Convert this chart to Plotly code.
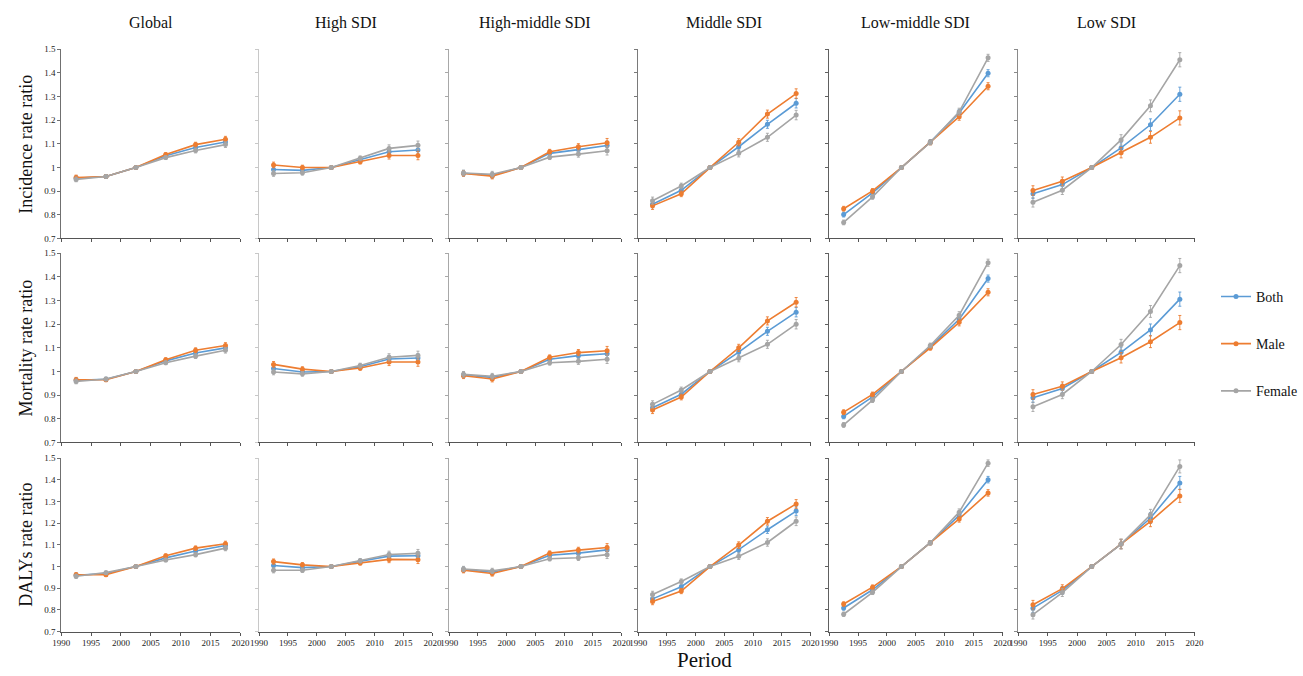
import plotly.graph_objects as go

W, H = 1303, 676

periods = [1992.5, 1997.5, 2002.5, 2007.5, 2012.5, 2017.5]
columns = ["Global", "High SDI", "High-middle SDI", "Middle SDI", "Low-middle SDI", "Low SDI"]
rows = ["Incidence rate ratio", "Mortality rate ratio", "DALYs rate ratio"]
sexes = ["Both", "Male", "Female"]
colors = {"Both": "#5B9BD5", "Male": "#ED7D31", "Female": "#A5A5A5"}

y_tickvals = [0.7, 0.8, 0.9, 1.0, 1.1, 1.2, 1.3, 1.4, 1.5]
y_ticktext = ["0.7", "0.8", "0.9", "1", "1.1", "1.2", "1.3", "1.4", "1.5"]
x_tickvals = [1990, 1995, 2000, 2005, 2010, 2015, 2020]

# Incidence
inc_global = {"Both": [0.955, 0.962, 1, 1.050, 1.085, 1.108],
              "Male": [0.958, 0.962, 1, 1.055, 1.097, 1.120],
              "Female": [0.950, 0.962, 1, 1.042, 1.072, 1.097]}
inc_high = {"Both": [0.992, 0.988, 1, 1.032, 1.067, 1.074],
            "Male": [1.011, 1.000, 1, 1.025, 1.051, 1.051],
            "Female": [0.975, 0.978, 1, 1.039, 1.081, 1.094]}
inc_highmid = {"Both": [0.976, 0.967, 1, 1.060, 1.076, 1.093],
               "Male": [0.975, 0.964, 1, 1.067, 1.088, 1.105],
               "Female": [0.977, 0.972, 1, 1.044, 1.057, 1.071]}
inc_mid = {"Both": [0.845, 0.904, 1, 1.088, 1.183, 1.272],
           "Male": [0.838, 0.889, 1, 1.107, 1.226, 1.313],
           "Female": [0.860, 0.922, 1, 1.060, 1.128, 1.222]}
inc_lowmid = {"Both": [0.801, 0.893, 1, 1.108, 1.231, 1.399],
              "Male": [0.826, 0.901, 1, 1.106, 1.215, 1.344],
              "Female": [0.768, 0.876, 1, 1.106, 1.236, 1.464]}
inc_low = {"Both": [0.889, 0.928, 1, 1.083, 1.181, 1.310],
           "Male": [0.903, 0.942, 1, 1.063, 1.128, 1.210],
           "Female": [0.853, 0.904, 1, 1.117, 1.261, 1.456]}

# Mortality
mor_global = {"Both": [0.963, 0.967, 1, 1.045, 1.078, 1.100],
              "Male": [0.965, 0.965, 1, 1.050, 1.090, 1.110],
              "Female": [0.958, 0.968, 1, 1.037, 1.065, 1.090]}
mor_high = {"Both": [1.013, 0.998, 1, 1.020, 1.053, 1.057],
            "Male": [1.030, 1.010, 1, 1.015, 1.040, 1.040],
            "Female": [0.998, 0.990, 1, 1.025, 1.060, 1.068]}
mor_highmid = {"Both": [0.985, 0.975, 1, 1.052, 1.067, 1.075],
               "Male": [0.982, 0.968, 1, 1.060, 1.080, 1.088],
               "Female": [0.988, 0.980, 1, 1.037, 1.043, 1.052]}
mor_mid = {"Both": [0.847, 0.904, 1, 1.082, 1.170, 1.251],
           "Male": [0.837, 0.892, 1, 1.100, 1.214, 1.293],
           "Female": [0.861, 0.922, 1, 1.056, 1.115, 1.200]}
mor_lowmid = {"Both": [0.810, 0.893, 1, 1.104, 1.221, 1.393],
              "Male": [0.828, 0.903, 1, 1.100, 1.208, 1.335],
              "Female": [0.774, 0.879, 1, 1.110, 1.238, 1.460]}
mor_low = {"Both": [0.889, 0.928, 1, 1.081, 1.176, 1.306],
           "Male": [0.903, 0.938, 1, 1.058, 1.126, 1.207],
           "Female": [0.851, 0.903, 1, 1.114, 1.254, 1.448]}

# DALYs
daly_global = {"Both": [0.960, 0.968, 1, 1.040, 1.072, 1.097],
               "Male": [0.962, 0.962, 1, 1.050, 1.085, 1.105],
               "Female": [0.955, 0.972, 1, 1.030, 1.055, 1.085]}
daly_high = {"Both": [1.005, 0.995, 1, 1.024, 1.048, 1.050],
             "Male": [1.023, 1.008, 1, 1.017, 1.033, 1.032],
             "Female": [0.983, 0.983, 1, 1.027, 1.056, 1.061]}
daly_highmid = {"Both": [0.986, 0.974, 1, 1.052, 1.062, 1.077],
                "Male": [0.983, 0.968, 1, 1.062, 1.076, 1.088],
                "Female": [0.989, 0.980, 1, 1.036, 1.041, 1.055]}
daly_mid = {"Both": [0.851, 0.907, 1, 1.078, 1.170, 1.256],
            "Male": [0.839, 0.887, 1, 1.099, 1.209, 1.289],
            "Female": [0.871, 0.931, 1, 1.048, 1.111, 1.209]}
daly_lowmid = {"Both": [0.809, 0.893, 1, 1.110, 1.236, 1.401],
               "Male": [0.827, 0.905, 1, 1.110, 1.220, 1.340],
               "Female": [0.780, 0.881, 1, 1.110, 1.251, 1.477]}
daly_low = {"Both": [0.808, 0.890, 1, 1.104, 1.224, 1.386],
            "Male": [0.824, 0.898, 1, 1.104, 1.209, 1.326],
            "Female": [0.778, 0.880, 1, 1.104, 1.239, 1.462]}

# error half-widths per column
err_global = [0.010, 0.008, 0.003, 0.008, 0.010, 0.012]
err_high = [0.012, 0.010, 0.003, 0.010, 0.015, 0.018]
err_highmid = [0.012, 0.012, 0.003, 0.010, 0.013, 0.018]
err_mid = [0.015, 0.012, 0.003, 0.015, 0.017, 0.020]
err_lowmid = [0.010, 0.010, 0.003, 0.010, 0.015, 0.015]
err_low = [0.020, 0.018, 0.003, 0.022, 0.025, 0.030]

data = [
    [inc_global, inc_high, inc_highmid, inc_mid, inc_lowmid, inc_low],
    [mor_global, mor_high, mor_highmid, mor_mid, mor_lowmid, mor_low],
    [daly_global, daly_high, daly_highmid, daly_mid, daly_lowmid, daly_low],
]
errs = [err_global, err_high, err_highmid, err_mid, err_lowmid, err_low]

col_px = [(53, 235), (254, 430), (447, 622), (639, 814), (833, 1009), (1025, 1204)]
row_px = [(45, 237), (252, 444), (460, 636)]
yline_colors = ["#707070", "#c8c8c8", "#a8a8a8", "#7a7a7a", "#606060", "#8a8a8a"]

SERIF = "Liberation Serif, Times New Roman, serif"

fig = go.Figure()
layout = {}
for r in range(3):
    for c in range(6):
        idx = r * 6 + c + 1
        xa = "x" if idx == 1 else f"x{idx}"
        ya = "y" if idx == 1 else f"y{idx}"
        for s in sexes:
            fig.add_trace(go.Scatter(
                x=periods, y=data[r][c][s], xaxis=xa, yaxis=ya,
                mode="lines+markers", name=s, legendgroup=s,
                showlegend=(idx == 1),
                line=dict(color=colors[s], width=1.6),
                marker=dict(color=colors[s], size=5),
                error_y=dict(type="data", array=errs[c], color=colors[s],
                             thickness=0.9, width=1.5),
            ))
        x0, x1 = col_px[c]
        y0, y1 = row_px[r]
        layout[f"xaxis{'' if idx == 1 else idx}"] = dict(
            domain=[x0 / W, x1 / W], anchor=ya, range=[1990, 2020],
            tickvals=x_tickvals, showticklabels=(r == 2),
            ticks="outside", ticklen=3, tickcolor="#555",
            showline=True, linecolor="#555", linewidth=1,
            showgrid=False, zeroline=False,
            tickfont=dict(family=SERIF, size=9, color="#222"),
        )
        layout[f"yaxis{'' if idx == 1 else idx}"] = dict(
            domain=[1 - y1 / H, 1 - y0 / H], anchor=xa, range=[0.7, 1.5],
            tickvals=y_tickvals, ticktext=y_ticktext, showticklabels=(c == 0),
            ticks="outside", ticklen=3, tickcolor=yline_colors[c],
            showline=True, linecolor=yline_colors[c], linewidth=1,
            showgrid=False, zeroline=False,
            tickfont=dict(family=SERIF, size=9, color="#222"),
        )

annotations = []
for c, name in enumerate(columns):
    x0, x1 = col_px[c]
    annotations.append(dict(text=name, x=(x0 + x1) / 2 / W, y=1 - 18 / H,
                            xref="paper", yref="paper", showarrow=False,
                            xanchor="center", yanchor="middle",
                            font=dict(family=SERIF, size=16, color="#111")))
for r, name in enumerate(rows):
    y0, y1 = row_px[r]
    annotations.append(dict(text=name, x=17 / W, y=1 - (y0 + y1) / 2 / H,
                            xref="paper", yref="paper", showarrow=False,
                            xanchor="center", yanchor="middle",
                            textangle=-90,
                            font=dict(family=SERIF, size=18, color="#111")))
annotations.append(dict(text="Period", x=706 / W, y=1 - 665 / H,
                        xref="paper", yref="paper", showarrow=False,
                        xanchor="center", yanchor="middle",
                        font=dict(family=SERIF, size=21, color="#111")))

fig.update_layout(
    width=W, height=H, margin=dict(l=0, r=0, t=0, b=0),
    paper_bgcolor="white", plot_bgcolor="white",
    annotations=annotations,
    legend=dict(x=1226 / W, y=1 - 280 / H, xanchor="left", yanchor="top",
                font=dict(family=SERIF, size=14, color="#111"),
                traceorder="grouped", tracegroupgap=26, itemwidth=30,
                bgcolor="rgba(0,0,0,0)"),
    showlegend=True,
    **layout,
)

fig.write_html("out.html")
